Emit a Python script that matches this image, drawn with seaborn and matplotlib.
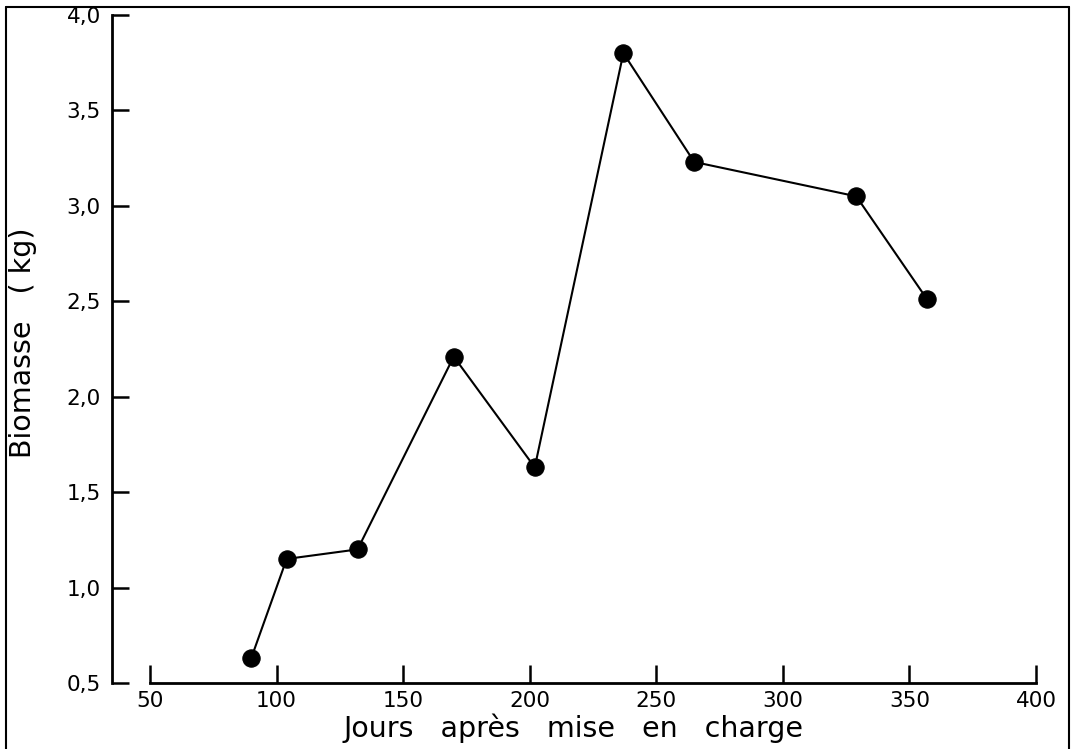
import matplotlib
matplotlib.use("Agg")
import matplotlib.pyplot as plt
import seaborn as sns
import pandas as pd
from matplotlib.lines import Line2D

# Data
jours = [90, 104, 132, 170, 202, 237, 265, 329, 357]
biomasse = [0.63, 1.15, 1.20, 2.21, 1.63, 3.80, 3.23, 3.05, 2.51]
x_ticks = [50, 100, 150, 200, 250, 300, 350, 400]
x_tick_labels = ["50", "100", "150", "200", "250", "300", "350", "400"]
y_ticks = [0.5, 1.0, 1.5, 2.0, 2.5, 3.0, 3.5, 4.0]
y_tick_labels = ["0,5", "1,0", "1,5", "2,0", "2,5", "3,0", "3,5", "4,0"]

sns.set_style("ticks")
plt.rcParams['font.family'] = ['DejaVu Sans']

W, H = 1073, 749
fig = plt.figure(figsize=(W / 100, H / 100), dpi=100)
left_px, right_px, top_px, bottom_px = 112, 1036, 15, 683
ax = fig.add_axes([left_px / W, 1 - bottom_px / H,
                   (right_px - left_px) / W, (bottom_px - top_px) / H])

df = pd.DataFrame({"Jours": jours, "Biomasse": biomasse})
sns.lineplot(data=df, x="Jours", y="Biomasse", ax=ax, color="black",
             linewidth=1.5, marker="o", markersize=12.5, markeredgecolor="black",
             markerfacecolor="black", sort=False)

ax.set_xlim(35, 400)
ax.set_ylim(0.5, 4.0)
ax.set_xticks(x_ticks)
ax.set_xticklabels(x_tick_labels)
ax.set_yticks(y_ticks)
ax.set_yticklabels(y_tick_labels)

for s in ["top", "right"]:
    ax.spines[s].set_visible(False)
ax.spines["left"].set_bounds(0.5, 4.0)
ax.spines["bottom"].set_bounds(50, 400)
for s in ["left", "bottom"]:
    ax.spines[s].set_linewidth(2.0)
    ax.spines[s].set_color("black")

ax.tick_params(axis="x", direction="in", length=13, width=1.8, pad=6,
               labelsize=15.5, colors="black")
ax.tick_params(axis="y", direction="in", length=12.5, width=1.8, pad=8,
               labelsize=15.5, colors="black")

ax.set_xlabel("Jours   après   mise   en   charge", fontsize=20.5, color="black")
ax.set_ylabel("Biomasse   ( kg)", fontsize=20.5, color="black")
ax.xaxis.set_label_coords(0.5, -0.046)
ax.yaxis.set_label_coords(-0.081, 0.51)

# figure frame (left, top, right)
lw = 1.5
fig.add_artist(Line2D([6 / W, 6 / W], [0, 1 - 7 / H], transform=fig.transFigure, color="black", lw=lw))
fig.add_artist(Line2D([6 / W, 1069 / W], [1 - 7 / H, 1 - 7 / H], transform=fig.transFigure, color="black", lw=lw))
fig.add_artist(Line2D([1069 / W, 1069 / W], [0, 1 - 7 / H], transform=fig.transFigure, color="black", lw=lw))

fig.savefig("out.png", dpi=100, facecolor="white")
